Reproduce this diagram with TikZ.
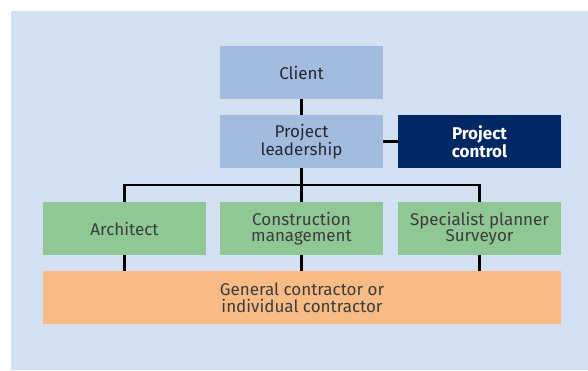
\documentclass[tikz,border=0pt]{standalone}
\usepackage{fontspec}
\setmainfont{Fira Sans}
\definecolor{bgblue}{RGB}{210,224,242}
\definecolor{boxblue}{RGB}{163,188,222}
\definecolor{navy}{RGB}{0,40,100}
\definecolor{boxgreen}{RGB}{143,199,149}
\definecolor{boxorange}{RGB}{249,187,133}
\definecolor{txtdark}{RGB}{35,40,55}
\definecolor{txtgrey}{RGB}{60,60,60}
\begin{document}
\begin{tikzpicture}[x=1pt,y=-1pt,
  orgbox/.style={rectangle, minimum width=163pt, minimum height=53pt, inner sep=0pt,
    align=center, font=\fontsize{17}{16.5}\selectfont},
  bluebox/.style={orgbox, fill=boxblue, text=txtdark},
  navybox/.style={orgbox, fill=navy, text=white, font=\fontsize{17}{16.5}\selectfont\bfseries},
  greenbox/.style={orgbox, fill=boxgreen, text=txtgrey},
  orangebox/.style={orgbox, fill=boxorange, text=txtgrey, minimum width=518pt},
  link/.style={draw=black, line width=2.4pt}]
\useasboundingbox (0,0) rectangle (588,370);
\fill[bgblue] (11,11) rectangle (588,370);
\node[bluebox] (client) at (301.5,72.5) {Client};
\node[bluebox] (lead) at (301.5,141.5) {Project\\leadership};
\node[navybox] (ctrl) at (479.5,141.5) {Project\\control};
\node[greenbox] (arch) at (124.5,228.5) {Architect};
\node[greenbox] (cons) at (301.5,228.5) {Construction\\management};
\node[greenbox] (spec) at (479.5,228.5) {Specialist planner\\Surveyor};
\node[orangebox] (gen) at (302,297.5) {General contractor or\\individual contractor};
\coordinate (bus) at (301.5,185);
\draw[link] (client.south) -- (lead.north);
\draw[link] (lead.east) -- (ctrl.west);
\draw[link] (lead.south) -- (cons.north);
\draw[link] (arch.north) |- (bus) -| (spec.north);
\draw[link] (arch.south) -- (arch.south |- gen.north);
\draw[link] (cons.south) -- (cons.south |- gen.north);
\draw[link] (spec.south) -- (spec.south |- gen.north);
\end{tikzpicture}
\end{document}
